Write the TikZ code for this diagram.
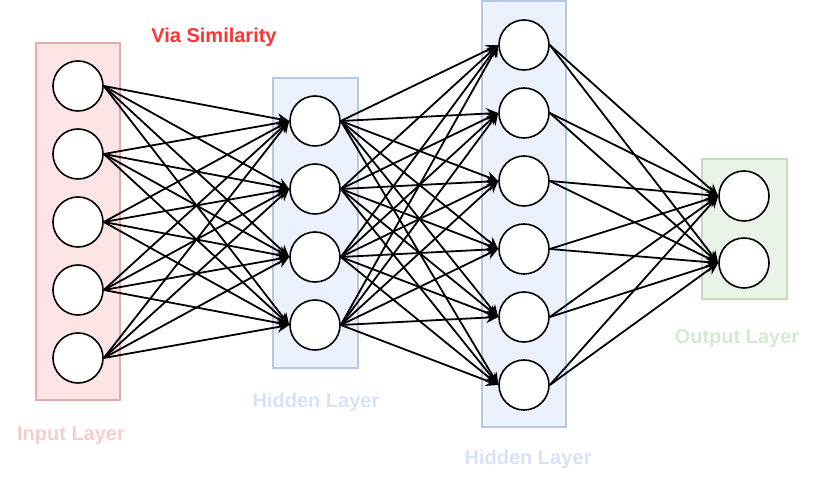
\documentclass[tikz,border=0pt]{standalone}
\usepackage{fontspec}
\setmainfont{Liberation Sans}
\usetikzlibrary{arrows.meta,positioning}

\definecolor{infill}{RGB}{252,228,228}
\definecolor{inline}{RGB}{226,172,172}
\definecolor{intext}{RGB}{246,204,204}
\definecolor{hidfill}{RGB}{235,242,253}
\definecolor{hidline}{RGB}{182,201,228}
\definecolor{hidtext}{RGB}{214,226,246}
\definecolor{outfill}{RGB}{233,243,232}
\definecolor{outline}{RGB}{196,222,186}
\definecolor{outtext}{RGB}{212,233,210}
\definecolor{viared}{RGB}{255,51,51}

\begin{document}
\begin{tikzpicture}[->,>={Stealth[length=6pt,width=5.5pt]},line width=0.9pt,
                    x=0.5pt,y=-0.5pt,node distance=34pt]

  \tikzstyle{neuron}=[circle,draw,line width=0.8pt,fill=white,minimum size=25pt,inner sep=0pt]
  \tikzstyle{layertext}=[font=\bfseries\fontsize{10pt}{12pt}\selectfont]
  \tikzstyle{layerbox}=[-,line width=0.8pt]

  \useasboundingbox (0,0) rectangle (830,480);

  % layer backgrounds
  \draw[layerbox,fill=infill,draw=inline]   (36,43)  rectangle (120,400);
  \draw[layerbox,fill=hidfill,draw=hidline] (273,78) rectangle (358,368);
  \draw[layerbox,fill=hidfill,draw=hidline] (482,1)  rectangle (566,427);
  \draw[layerbox,fill=outfill,draw=outline] (702,159) rectangle (787,299);

  % input layer
  \node[neuron] (I1) at (78,86) {};
  \node[neuron] (I2) [below of=I1] {};
  \node[neuron] (I3) [below of=I2] {};
  \node[neuron] (I4) [below of=I3] {};
  \node[neuron] (I5) [below of=I4] {};

  % first hidden layer
  \node[neuron] (H1) at (315,121) {};
  \node[neuron] (H2) [below of=H1] {};
  \node[neuron] (H3) [below of=H2] {};
  \node[neuron] (H4) [below of=H3] {};

  % second hidden layer
  \node[neuron] (K1) at (524,45) {};
  \node[neuron] (K2) [below of=K1] {};
  \node[neuron] (K3) [below of=K2] {};
  \node[neuron] (K4) [below of=K3] {};
  \node[neuron] (K5) [below of=K4] {};
  \node[neuron] (K6) [below of=K5] {};

  % output layer
  \node[neuron] (O1) at (744,196) {};
  \node[neuron] (O2) [below of=O1, node distance=33.5pt] {};

  % labels
  \node[layertext,text=viared] (via) at (214,37) {Via Similarity};
  \node[layertext,text=intext] (inlabel) at (71,436) {Input Layer};
  \node[layertext,text=hidtext] (hidlabel) at (316,402) {Hidden Layer};
  \node[layertext,text=hidtext] (hidlabelb) at (528,459) {Hidden Layer};
  \node[layertext,text=outtext] (outlabel) at (737,339) {Output Layer};

  % connections
  \foreach \i in {1,...,5}
    \foreach \j in {1,...,4}
      \path (I\i.east) edge (H\j.west);
  \foreach \i in {1,...,4}
    \foreach \j in {1,...,6}
      \path (H\i.east) edge (K\j.west);
  \foreach \i in {1,...,6}
    \foreach \j in {1,2}
      \path (K\i.east) edge (O\j.west);

\end{tikzpicture}
\end{document}
